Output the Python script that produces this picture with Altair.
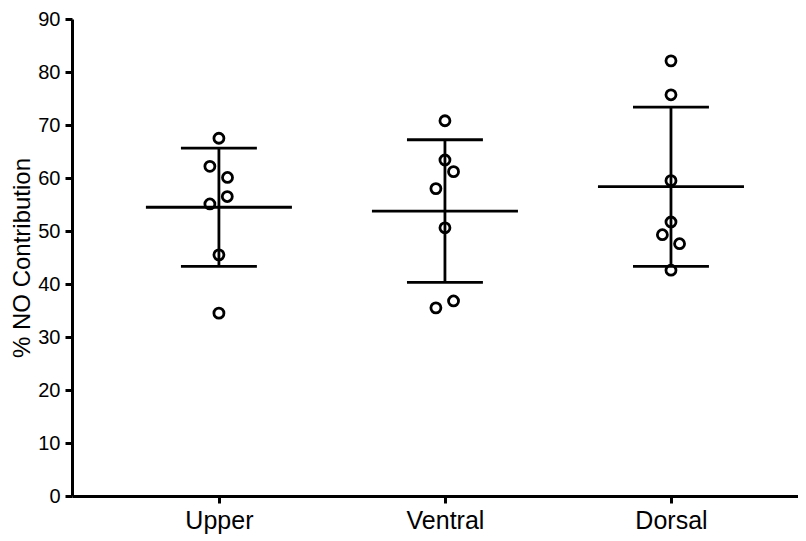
import altair as alt
import pandas as pd

categories = ["Upper", "Ventral", "Dorsal"]

upper_values = [67.5, 62.2, 60.1, 56.5, 55.1, 45.5, 34.5]
upper_jitter = [0.0, -0.04, 0.038, 0.037, -0.04, 0.0, 0.0]

ventral_values = [70.8, 63.4, 61.2, 58.0, 50.6, 36.8, 35.5]
ventral_jitter = [0.0, 0.0, 0.038, -0.04, 0.0, 0.038, -0.04]

dorsal_values = [82.1, 75.7, 59.5, 51.7, 49.3, 47.6, 42.6]
dorsal_jitter = [0.0, 0.0, 0.0, 0.0, -0.038, 0.038, 0.0]

y_ticks = list(range(0, 91, 10))

rows = []
for i, (vals, jit) in enumerate([(upper_values, upper_jitter),
                                 (ventral_values, ventral_jitter),
                                 (dorsal_values, dorsal_jitter)]):
    for v, j in zip(vals, jit):
        rows.append({"group": categories[i], "idx": i, "value": v, "jitter": j})
df = pd.DataFrame(rows)

label_expr = "[" + ",".join("'%s'" % c for c in categories) + "][datum.value]"

FONT = "Liberation Sans"

x_scale = alt.Scale(domain=[-0.65, 2.562], nice=False, zero=False)
y_scale = alt.Scale(domain=[0, 90], nice=False)

x_axis = alt.Axis(values=[0, 1, 2], labelExpr=label_expr, title=None, grid=False,
                  domainColor="black", domainWidth=3, tickColor="black", tickWidth=3,
                  tickSize=7, labelFontSize=25, labelFont=FONT, labelColor="black",
                  labelPadding=5)
y_axis = alt.Axis(values=y_ticks, title="% NO Contribution", grid=False,
                  domainColor="black", domainWidth=3, tickColor="black", tickWidth=3,
                  tickSize=7, labelFontSize=20, labelFont=FONT, labelColor="black",
                  labelPadding=5, titleFont=FONT, titleFontSize=24,
                  titleFontWeight="normal", titleColor="black", titlePadding=3)

base = alt.Chart(df)

points = base.transform_calculate(xp="datum.idx + datum.jitter").mark_point(
    shape="circle", filled=False, size=100, strokeWidth=2.8, color="black", opacity=1
).encode(
    x=alt.X("xp:Q", scale=x_scale, axis=x_axis),
    y=alt.Y("value:Q", scale=y_scale, axis=y_axis),
)

stats = base.transform_aggregate(
    mean="mean(value)", sd="stdev(value)", groupby=["idx"]
).transform_calculate(
    lo="datum.mean - datum.sd", hi="datum.mean + datum.sd",
    mx1="datum.idx - 0.323", mx2="datum.idx + 0.323",
    cx1="datum.idx - 0.168", cx2="datum.idx + 0.168",
)

vline = stats.mark_rule(color="black", strokeWidth=2.8).encode(
    x=alt.X("idx:Q", scale=x_scale), y=alt.Y("lo:Q", scale=y_scale), y2="hi:Q"
)
mline = stats.mark_rule(color="black", strokeWidth=2.8).encode(
    x=alt.X("mx1:Q", scale=x_scale), x2="mx2:Q", y=alt.Y("mean:Q", scale=y_scale)
)
caps = stats.transform_fold(["lo", "hi"], as_=["k", "cv"]).mark_rule(
    color="black", strokeWidth=2.8
).encode(
    x=alt.X("cx1:Q", scale=x_scale), x2="cx2:Q", y=alt.Y("cv:Q", scale=y_scale)
)

chart = alt.layer(vline, mline, caps, points).properties(
    width=726, height=477,
    autosize=alt.AutoSizeParams(type="none"),
    padding={"left": 64, "top": 11, "right": 0, "bottom": 38},
).configure_view(stroke=None)

chart.save("out.html", embed_options={"renderer": "svg", "actions": False})
